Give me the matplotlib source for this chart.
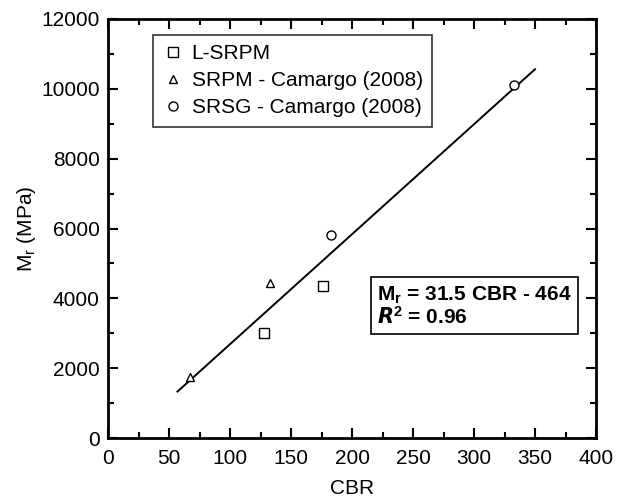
import matplotlib
matplotlib.use("Agg")
import matplotlib.pyplot as plt
import numpy as np
from matplotlib.ticker import MultipleLocator

plt.rcParams['font.family'] = ['Liberation Sans', 'DejaVu Sans']
plt.rcParams['mathtext.fontset'] = 'custom'
plt.rcParams['mathtext.rm'] = 'Liberation Sans'
plt.rcParams['mathtext.it'] = 'Liberation Sans:italic'
plt.rcParams['mathtext.bf'] = 'Liberation Sans:bold'

# Data
lsrpm_cbr = [128, 176]
lsrpm_mr = [3000, 4350]
srpm_cbr = [67, 133]
srpm_mr = [1750, 4450]
srsg_cbr = [183, 333]
srsg_mr = [5800, 10100]
fit_slope = 31.5
fit_intercept = -464
fit_range = [57, 350]

fig = plt.figure(figsize=(6.23, 5.0), dpi=100)
ax = fig.add_axes([108/623, 1-438/500, (596-108)/623, (438-19)/500])

ax.plot(lsrpm_cbr, lsrpm_mr, 's', mfc='white', mec='black', ms=7, mew=1.0, label='L-SRPM', zorder=3)
ax.plot(srpm_cbr, srpm_mr, '^', mfc='white', mec='black', ms=6, mew=1.0, label='SRPM - Camargo (2008)', zorder=3)
ax.plot(srsg_cbr, srsg_mr, 'o', mfc='white', mec='black', ms=6.5, mew=1.0, label='SRSG - Camargo (2008)', zorder=3)

xf = np.array(fit_range, dtype=float)
ax.plot(xf, fit_slope * xf + fit_intercept, '-', color='black', lw=1.4, zorder=2)

ax.set_xlim(0, 400)
ax.set_ylim(0, 12000)
ax.xaxis.set_major_locator(MultipleLocator(50))
ax.xaxis.set_minor_locator(MultipleLocator(25))
ax.yaxis.set_major_locator(MultipleLocator(2000))
ax.yaxis.set_minor_locator(MultipleLocator(1000))
ax.tick_params(which='both', direction='in', top=True, right=True, labelsize=15, width=1.5)
ax.tick_params(which='major', length=7)
ax.tick_params(axis='x', which='major', pad=8)
ax.tick_params(axis='y', which='major', pad=6)
ax.tick_params(which='minor', length=4)
for s in ax.spines.values():
    s.set_linewidth(2)

ax.set_xlabel('CBR', fontsize=15, labelpad=8)
ax.set_ylabel('M$_\\mathrm{r}$ (MPa)', fontsize=15, labelpad=2)

leg = ax.legend(loc='upper left', bbox_to_anchor=((153-108)/488, 1-(35-19)/419), fontsize=15,
                frameon=True, fancybox=False, edgecolor='black', handlelength=1.0,
                handletextpad=0.4, borderpad=0.45, labelspacing=0.38, borderaxespad=0)
leg.get_frame().set_linewidth(1.2)

ax.text((377-108)/488, 1-(306-19)/419,
        'M$_\\mathbf{r}$ = 31.5 CBR - 464\n$\\mathbfit{R}^\\mathbf{2}$ = 0.96',
        transform=ax.transAxes, fontsize=15, fontweight='bold', va='center', ha='left',
        linespacing=1.0,
        bbox=dict(boxstyle='square,pad=0.3', fc='white', ec='black', lw=1.2))

fig.savefig('out.png', dpi=100)
